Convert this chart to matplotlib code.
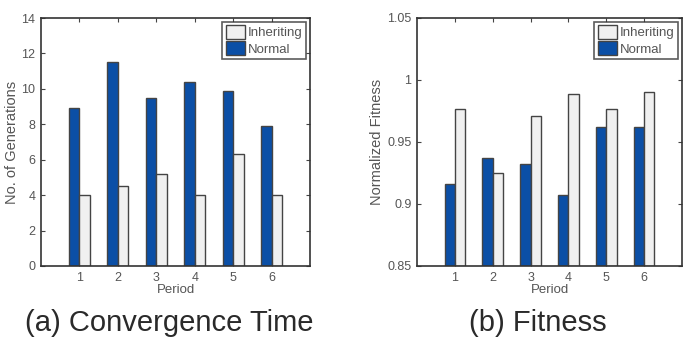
import matplotlib
matplotlib.use("Agg")
import matplotlib.pyplot as plt
import numpy as np

# ---------------------------------------------------------- #
#  Data                                                      #
# ---------------------------------------------------------- #
periods = [1, 2, 3, 4, 5, 6]

gen_normal = [8.9, 11.5, 9.5, 10.4, 9.9, 7.9]
gen_inherit = [4.0, 4.5, 5.2, 4.0, 6.3, 4.0]

fit_normal = [0.916, 0.937, 0.932, 0.907, 0.962, 0.962]
fit_inherit = [0.977, 0.925, 0.971, 0.989, 0.977, 0.990]

BLUE = "#0b4fa6"
WHITE = "#f0f0f0"
EDGE = "#444444"
TEXT = "#555555"

plt.rcParams['font.family'] = ['Liberation Sans', 'DejaVu Sans']


def draw_panel(ax, normal, inherit, ylim, yticks, yticklabels, ylabel):
    """
        Grouped bars in the old MATLAB look
    """
    x = np.array(periods, dtype=float)
    w = 0.27
    b_norm = ax.bar(x - w / 2, np.array(normal) - ylim[0], w, bottom=ylim[0],
                    color=BLUE, edgecolor=EDGE, linewidth=1.0, label="Normal")
    b_inh = ax.bar(x + w / 2, np.array(inherit) - ylim[0], w, bottom=ylim[0],
                   color=WHITE, edgecolor=EDGE, linewidth=1.0, label="Inheriting")
    ax.set_xlim(0, 7)
    ax.set_ylim(*ylim)
    ax.set_xticks(periods)
    ax.set_yticks(yticks)
    ax.set_yticklabels(yticklabels)
    ax.tick_params(direction="in", top=True, right=True, length=3,
                   labelsize=9, labelcolor=TEXT, color=EDGE, pad=4)
    for s in ax.spines.values():
        s.set_color("#333333")
        s.set_linewidth(1.2)
    ax.set_xlabel("Period", fontsize=9.5, color=TEXT, labelpad=0)
    ax.set_ylabel(ylabel, fontsize=10.5, color=TEXT, labelpad=2)
    leg = ax.legend([b_inh, b_norm], ["Inheriting", "Normal"], loc="upper right",
                    fontsize=9.5, frameon=True, fancybox=False, borderpad=0.25,
                    handlelength=1.5, handleheight=1.2, handletextpad=0.2,
                    borderaxespad=0.3, labelspacing=0.15)
    leg.get_frame().set_edgecolor("#333333")
    leg.get_frame().set_linewidth(1.2)
    for t in leg.get_texts():
        t.set_color(TEXT)


fig = plt.figure(figsize=(6.87, 3.38), dpi=100)
ax1 = fig.add_axes([41 / 687, 1 - 266 / 338, 269 / 687, 248 / 338])
ax2 = fig.add_axes([417 / 687, 1 - 266 / 338, 265 / 687, 248 / 338])

draw_panel(ax1, gen_normal, gen_inherit, (0, 14), range(0, 15, 2),
           [str(v) for v in range(0, 15, 2)], "No. of Generations")
draw_panel(ax2, fit_normal, fit_inherit, (0.85, 1.05),
           [0.85, 0.9, 0.95, 1.0, 1.05], ["0.85", "0.9", "0.95", "1", "1.05"],
           "Normalized Fitness")

fig.text(169 / 687, 1 - 331 / 338, "(a) Convergence Time", ha="center",
         va="baseline", fontsize=21, color="#2a2a2a")
fig.text(538 / 687, 1 - 331 / 338, "(b) Fitness", ha="center",
         va="baseline", fontsize=21, color="#2a2a2a")

fig.savefig("out.png", dpi=100)
